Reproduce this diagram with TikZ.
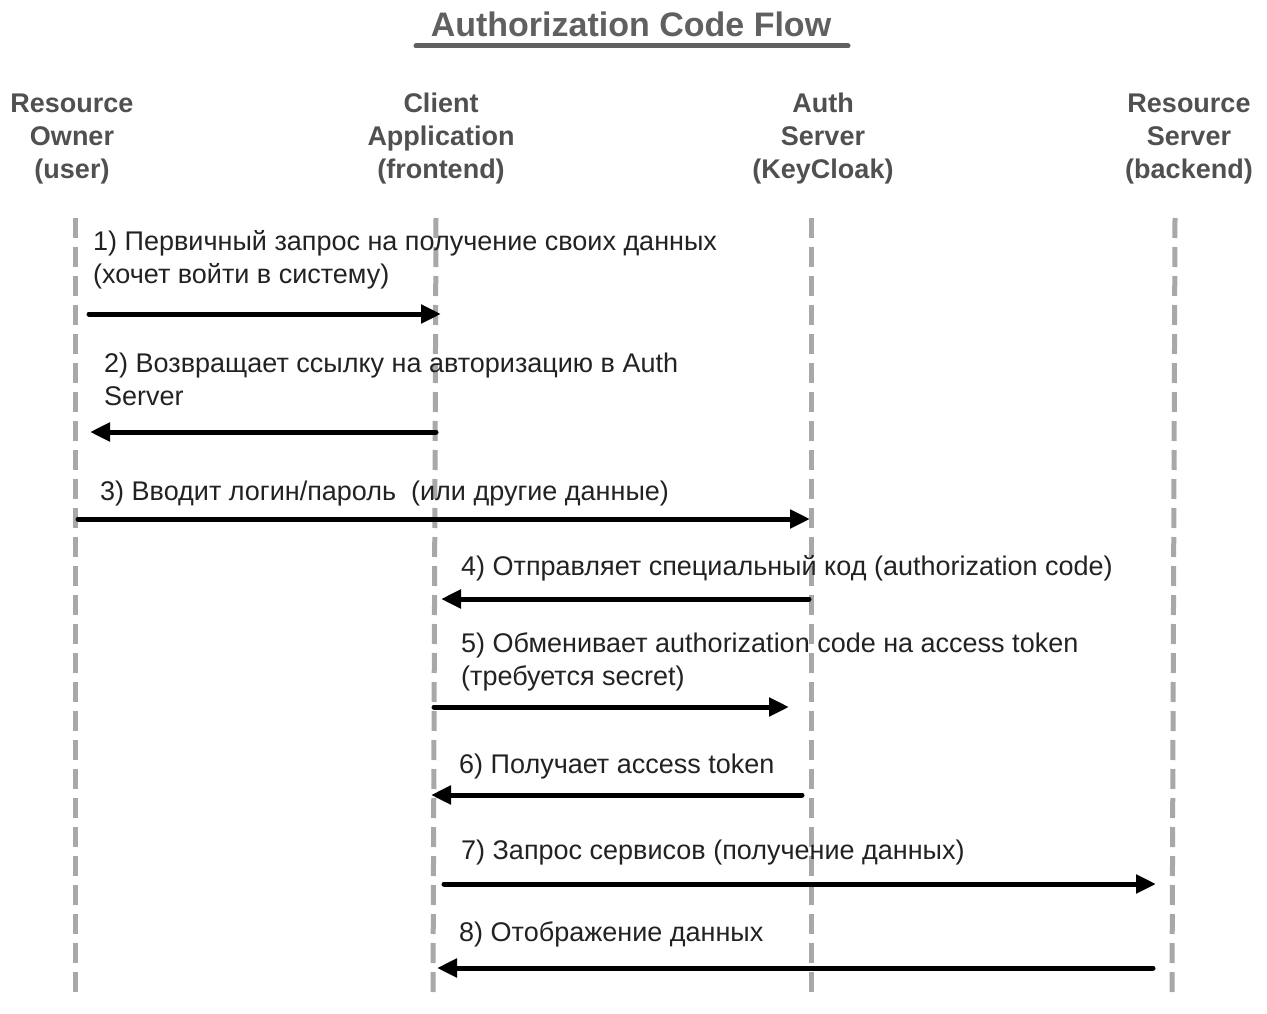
\documentclass[tikz,border=0pt]{standalone}
\usepackage{fontspec}
\setmainfont{Liberation Sans}
\usetikzlibrary{arrows.meta, positioning}

\definecolor{titlegray}{HTML}{606060}
\definecolor{headgray}{HTML}{505050}
\definecolor{textgray}{HTML}{222222}
\definecolor{lifegray}{HTML}{A8A8A8}

\begin{document}
\begin{tikzpicture}[x=1pt, y=-1pt,
    actor/.style={font=\bfseries\fontsize{27}{33}\selectfont, text=headgray, align=center, inner sep=0pt},
    life/.style={draw=lifegray, line width=5pt, dash pattern=on 20pt off 9pt},
    msg/.style={draw=black, line width=5pt, line cap=round, -{Triangle[length=20pt, width=18pt]}},
    lbl/.style={font=\fontsize{27}{33}\selectfont, text=textgray, align=left, anchor=base west, inner sep=0pt}]

    \useasboundingbox (0,0) rectangle (1267,1014);

    %% title
    \node (title) [font=\bfseries\fontsize{34}{40}\selectfont, text=titlegray, inner sep=0pt] at (631,24) {Authorization Code Flow};
    \coordinate (ulL) at (416,46);
    \coordinate (ulR) at (848,46);
    \draw[titlegray, line width=5pt, line cap=round] (ulL) -- (ulR);

    %% actors
    \node (owner) [actor] at (72,139) {Resource\\Owner\\(user)};
    \node (client) [actor] at (441,139) {Client\\Application\\(frontend)};
    \node (auth) [actor] at (823,139) {Auth\\Server\\(KeyCloak)};
    \node (rserv) [actor] at (1189,139) {Resource\\Server\\(backend)};

    %% lifelines
    \coordinate (ownerTop) at (75,218);   \coordinate (ownerBot) at (75,992);
    \coordinate (clientTop) at (436,218); \coordinate (clientBot) at (433,992);
    \coordinate (authTop) at (811,218);   \coordinate (authBot) at (811,992);
    \coordinate (rservTop) at (1175,218); \coordinate (rservBot) at (1172,992);
    \draw[life] (ownerTop) -- (ownerBot);
    \draw[life] (clientTop) -- (clientBot);
    \draw[life] (authTop) -- (authBot);
    \draw[life] (rservTop) -- (rservBot);

    %% messages (base = last line)
    \node (t1) [lbl] at (93,283) {1) Первичный запрос на получение своих данных\\(хочет войти в систему)};
    \coordinate (m1a) at (89,314);  \coordinate (m1b) at (441,314);
    \draw[msg] (m1a) -- (m1b);

    \node (t2) [lbl] at (104,405) {2) Возвращает ссылку на авторизацию в Auth\\Server};
    \coordinate (m2a) at (436,432); \coordinate (m2b) at (90,432);
    \draw[msg] (m2a) -- (m2b);

    \node (t3) [lbl] at (100,500) {3) Вводит логин/пароль\ \ (или другие данные)};
    \coordinate (m3a) at (78,519);  \coordinate (m3b) at (810,519);
    \draw[msg] (m3a) -- (m3b);

    \node (t4) [lbl] at (461,575) {4) Отправляет специальный код (authorization code)};
    \coordinate (m4a) at (809,599); \coordinate (m4b) at (441,599);
    \draw[msg] (m4a) -- (m4b);

    \node (t5) [lbl] at (461,685) {5) Обменивает authorization code на access token\\(требуется secret)};
    \coordinate (m5a) at (434,707); \coordinate (m5b) at (789,707);
    \draw[msg] (m5a) -- (m5b);

    \node (t6) [lbl] at (459,773) {6) Получает access token};
    \coordinate (m6a) at (802,795); \coordinate (m6b) at (431,795);
    \draw[msg] (m6a) -- (m6b);

    \node (t7) [lbl] at (461,859) {7) Запрос сервисов (получение данных)};
    \coordinate (m7a) at (444,884); \coordinate (m7b) at (1156,884);
    \draw[msg] (m7a) -- (m7b);

    \node (t8) [lbl] at (459,941) {8) Отображение данных};
    \coordinate (m8a) at (1153,968); \coordinate (m8b) at (437,968);
    \draw[msg] (m8a) -- (m8b);

\end{tikzpicture}
\end{document}
